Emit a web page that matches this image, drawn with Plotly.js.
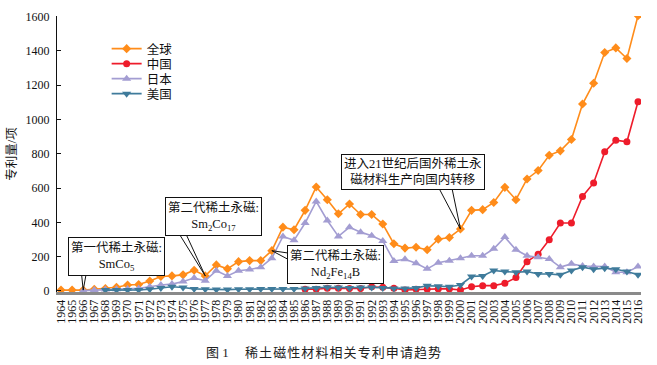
<!DOCTYPE html>
<html>
<head>
<meta charset="utf-8">
<script src="https://cdn.plot.ly/plotly-3.0.1.min.js"></script>
<style>html,body{margin:0;padding:0;background:#fff;}#chart{width:657px;height:365px;}</style>
</head>
<body>
<div id="chart"></div>
<script>
// ---- data ----
var years = [];
for (var yr = 1964; yr <= 2016; yr++) years.push(yr);

var globalVals = [5,5,5,10,14,22,35,38,58,84,88,94,121,88,152,129,171,177,177,235,
  372,357,470,606,532,450,507,446,446,390,275,250,255,240,302,312,
  361,470,474,516,604,532,653,702,791,817,883,1090,1211,1390,1417,1355,1605];

var chinaStart = 1986;
var chinaVals = [10,10,16,16,14,14,25,22,16,6,10,10,12,12,
  6,25,31,31,45,78,171,214,298,396,396,551,630,811,879,870,1103];

var japanStart = 1966;
var japanVals = [2,5,8,10,12,15,25,35,40,55,75,60,118,88,118,125,138,191,318,295,
  396,522,411,318,372,343,322,292,175,185,162,129,165,176,
  191,205,205,246,314,240,205,197,187,139,158,146,142,142,109,109,142];

var usaStart = 1968;
var usaVals = [5,5,5,6,10,18,25,20,12,10,8,8,10,10,12,12,12,12,15,18,22,20,18,20,20,18,15,15,18,30,28,25,
  35,84,88,119,113,109,113,99,99,94,119,139,127,133,127,113,94];

var seriesNames = ['全球','中国','日本','美国'];
var yTicks = [0,200,400,600,800,1000,1200,1400,1600];

function yearsFrom(start, n) { return years.slice(start - 1964, start - 1964 + n); }

var serif = '"Liberation Serif","Times New Roman","Noto Sans CJK SC",serif';
var cjk = '"Liberation Serif","Noto Sans CJK SC",serif';

var traces = [
  {x: years, y: globalVals, name: seriesNames[0], legend: 'legend',
   mode: 'lines+markers', line: {color: '#ff8c1a', width: 1.6},
   marker: {symbol: 'diamond', size: 7, color: '#ff8c1a'}},
  {x: yearsFrom(chinaStart, chinaVals.length), y: chinaVals, name: seriesNames[1], legend: 'legend2',
   mode: 'lines+markers', line: {color: '#ee1c2b', width: 1.6},
   marker: {symbol: 'circle', size: 7, color: '#ee1c2b'}},
  {x: yearsFrom(japanStart, japanVals.length), y: japanVals, name: seriesNames[2], legend: 'legend3',
   mode: 'lines+markers', line: {color: '#a39dd2', width: 1.6},
   marker: {symbol: 'triangle-up', size: 8, color: '#a39dd2'}},
  {x: yearsFrom(usaStart, usaVals.length), y: usaVals, name: seriesNames[3], legend: 'legend4',
   mode: 'lines+markers', line: {color: '#3f7b9b', width: 1.6},
   marker: {symbol: 'triangle-down', size: 8, color: '#3f7b9b'}}
];

function leg(yp) {
  return {x: 0.085, y: yp, xanchor: 'left', yanchor: 'middle', bgcolor: 'rgba(0,0,0,0)',
    font: {family: cjk, size: 12.5, color: '#111'}, itemwidth: 30};
}

// callout wedge line: from a data point to a tail that ends under its label box
function wedge(year, tx, ty) {
  return {type: 'line', xref: 'x', yref: 'y',
    x0: year, y0: globalVals[year - 1964], x1: tx, y1: ty,
    line: {color: '#111', width: 1}, layer: 'above'};
}
function box(xv, yv, txt, size) {
  return {x: xv, y: yv, xref: 'x', yref: 'y', text: txt, showarrow: false,
    font: {family: cjk, size: size, color: '#111'}, bgcolor: '#fff', bordercolor: '#111',
    borderwidth: 1, borderpad: 2, align: 'center'};
}

var shapes = [
  wedge(1966, 1965.76, 157), wedge(1966, 1966.43, 157),
  wedge(1977, 1974.21, 379), wedge(1977, 1974.93, 379),
  wedge(1983, 1984.82, 218), wedge(1983, 1984.82, 172),
  wedge(2000, 1997.77, 635), wedge(2000, 1999.12, 635)
];

var annotations = [
  box(1969.0, 202, '第一代稀土永磁:<br>SmCo<sub>5</sub>', 12.5),
  box(1977.7, 437, '第二代稀土永磁:<br>Sm<sub>2</sub>Co<sub>17</sub>', 12.5),
  box(1988.74, 157, '第二代稀土永磁:<br>Nd<sub>2</sub>Fe<sub>14</sub>B', 12.5),
  box(1995.68, 695, '进入21世纪后国外稀土永<br>磁材料生产向国内转移', 12.5),
  {xref: 'paper', yref: 'paper', x: (323 - 57) / 584, y: -(352 - 292) / 276, xanchor: 'center', yanchor: 'middle',
   text: '图 1\u2003 稀\u200a土\u200a磁\u200a性\u200a材\u200a料\u200a相\u200a关\u200a专\u200a利\u200a申\u200a请\u200a趋\u200a势',
   showarrow: false, font: {family: cjk, size: 13, color: '#222'}}
];

var layout = {
  width: 657, height: 365,
  margin: {l: 57, r: 16, t: 16, b: 73},
  paper_bgcolor: '#fff', plot_bgcolor: '#fff',
  font: {family: serif, size: 12, color: '#111'},
  showlegend: true,
  legend: leg((292 - 49) / 276), legend2: leg((292 - 64) / 276),
  legend3: leg((292 - 79) / 276), legend4: leg((292 - 94) / 276),
  xaxis: {range: [1963.64, 2016.27], tickmode: 'array', tickvals: years, ticktext: years.map(String),
    tickangle: -90, showgrid: false, zeroline: false, showline: true, linecolor: '#8a8a8a', linewidth: 3,
    ticks: '', tickfont: {family: serif, size: 12, color: '#111'}},
  yaxis: {range: [-6, 1603], tickmode: 'array', tickvals: yTicks, showgrid: false, zeroline: false,
    showline: true, linecolor: '#111', linewidth: 1, ticks: 'inside', ticklen: 4, tickcolor: '#111',
    ticklabelstandoff: 4,
    tickfont: {family: serif, size: 12, color: '#111'},
    title: {text: '专利量/项', font: {family: cjk, size: 12.5, color: '#111'}, standoff: 6}},
  shapes: shapes,
  annotations: annotations
};

Plotly.newPlot('chart', traces, layout, {displayModeBar: false, staticPlot: true});
</script>
</body>
</html>
